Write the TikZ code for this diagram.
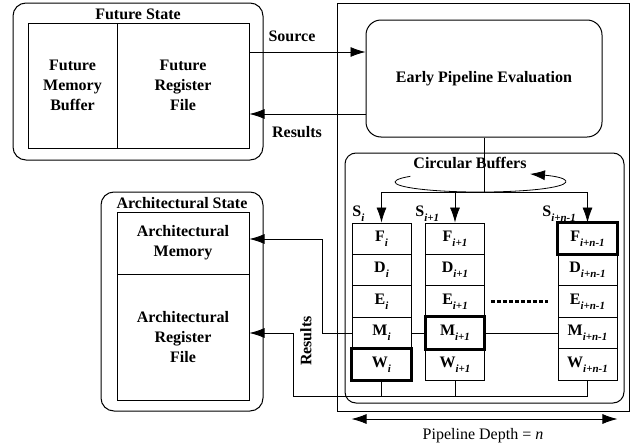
\documentclass[tikz,border=0pt]{standalone}
\usepackage{fontspec}
\setmainfont{Liberation Serif}
\usetikzlibrary{arrows.meta,positioning}
\newcommand\stagesub[1]{\raisebox{-5pt}{\fontsize{11}{11}\selectfont\textit{#1}}}

\begin{document}
\begin{tikzpicture}[x=1pt,y=-1pt,line width=0.8pt,
  every node/.style={font=\fontsize{16}{20}\selectfont\bfseries},
  inner box/.style={draw,line width=1pt,align=center,inner sep=0pt},
  rounded frame/.style={draw,line width=1pt,rounded corners=13pt},
  cell node/.style={draw,line width=0.9pt,minimum width=59pt,minimum height=31.4pt,inner sep=0pt},
  hot cell/.style={draw,line width=3pt},
  dots line/.style={line width=2.4pt,dash pattern=on 4pt off 2pt},
  arr/.style={-{Latex[length=15pt,width=10pt]}}]
\useasboundingbox (0,0) rectangle (637,447);

\node[rounded frame,minimum width=250pt,minimum height=157pt] (fs) at (138,81.5) {};
\node (fstitle) at (138,14) {Future State};
\node[inner box,minimum width=89pt,minimum height=125pt] (fmb) at (72.5,85.5) {Future\\Memory\\Buffer};
\node[inner box,minimum width=132pt,minimum height=125pt] (frf) at (183,85.5) {Future\\Register\\File};

\node[rounded frame,minimum width=162pt,minimum height=219pt] (as) at (182,301.5) {};
\node (astitle) at (182,203) {Architectural State};
\node[inner box,minimum width=132pt,minimum height=62pt] (am) at (183,243) {Architectural\\Memory};
\node[inner box,minimum width=132pt,minimum height=126pt] (arf) at (183,337) {Architectural\\Register\\File};

\node[draw,line width=1pt,minimum width=292pt,minimum height=408pt] (pipe) at (483,207) {};
\node[rounded frame,rounded corners=15pt,minimum width=236pt,minimum height=117pt] (epe) at (484,78.5) {Early Pipeline Evaluation};
\node[rounded frame,rounded corners=11pt,minimum width=279pt,minimum height=250pt] (cb) at (484.5,278) {};
\node (cbtitle) at (470,163) {Circular Buffers};

\foreach \c/\x/\s in {1/381.5/i,2/455/i+1,3/587.5/i+n-1}
  \foreach \r/\L [count=\k] in {f/F,d/D,e/E,m/M,w/W}
    \node[cell node] (\r\c) at (\x,{223+31.4*\k-15.7}) {\L\stagesub{\s}};
\foreach \n in {f3,m2,w1}
  \draw[hot cell] (\n.north west) rectangle (\n.south east);

\node[anchor=base west,inner sep=0pt] (s1) at (352,216) {S\stagesub{i}};
\node[anchor=base west,inner sep=0pt] (s2) at (415,216) {S\stagesub{i+1}};
\node[anchor=base west,inner sep=0pt] (s3) at (542,216) {S\stagesub{i+n-1}};

\draw[arr] (frf.east |- 0,52) -- (epe.west |- 0,52);
\draw[arr] (epe.west |- 0,114) -- (frf.east |- 0,114);
\node (src) at (292,36) {Source};
\node (res) at (297,132) {Results};

\draw (epe.south) -- (484,192) coordinate (split);
\draw (f1.north |- split) -- (f3.north |- split);
\foreach \c in {1,2,3}
  \draw[arr] (f\c.north |- split) -- (f\c.north);
\draw[arr] (410.4,176.3) arc[start angle=145,end angle=414,x radius=85pt,y radius=10pt];

\draw[dots line] ([xshift=6pt]e2.east) -- ([xshift=-10pt]e3.west);

\draw (m3.west) -- (m2.east);
\draw (m2.west) -- (m1.east);
\draw[arr] (m1.west) -| (322,239) -- (am.east |- 0,239);

\foreach \c in {1,2,3}
  \draw (w\c.south) -- (w\c.south |- 0,396);
\draw[arr] (w3.south |- 0,396) -- (293,396) -- (293,333) -- (arf.east |- 0,333);
\node[rotate=90] (res2) at (306,341) {Results};

\draw[{Latex[length=15pt,width=10pt]}-{Latex[length=15pt,width=10pt]}] (f1.west |- 0,419) -- (f3.east |- 0,419);
\node[font=\fontsize{16}{20}\selectfont] (depth) at (483,436) {Pipeline Depth = \textit{n}};
\end{tikzpicture}
\end{document}
